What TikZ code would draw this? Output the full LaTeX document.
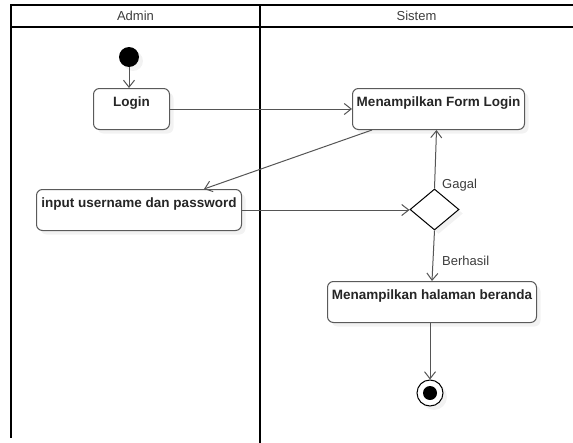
\documentclass[tikz,border=0pt]{standalone}
\usepackage{fontspec}
\setmainfont{Liberation Sans}
\usepackage{xcolor}
\usepackage{tikz}
\usetikzlibrary{arrows.meta,shapes.geometric,shadows}
\definecolor{figline}{RGB}{0,0,0}
\definecolor{figbox}{RGB}{90,90,90}
\definecolor{figflow}{RGB}{85,85,85}
\definecolor{figtext}{RGB}{60,60,60}
\tikzset{
  fr/.style   ={draw=figline, line width=1.5pt},
  act/.style  ={draw=figbox, line width=1pt, fill=white, rounded corners=6pt,
                anchor=north west, inner xsep=3pt, inner ysep=0pt,
                text height=18pt, text depth=23pt,
                font=\fontsize{13.5}{15}\selectfont\bfseries, text=black!85,
                drop shadow={opacity=0.1, shadow xshift=4pt, shadow yshift=-4pt}},
  lab/.style  ={font=\fontsize{13}{15}\selectfont, text=figtext, inner sep=1pt},
  flw/.style  ={draw=figflow, line width=1pt, -{Straight Barb[length=7pt,width=11pt]}},
}

\begin{document}
\begin{tikzpicture}[x=1pt,y=-1pt]
  \useasboundingbox (0,0) rectangle (573,442);
  % swimlanes
  \draw[fr] (574,5) -- (11,5) -- (11,438);
  \draw[fr] (11,27) -- (574,27);
  \draw[fr] (260,5) -- (260,443);
  \node[lab] (hadmin) at (135.5,16) {Admin};
  \node[lab] (hsistem) at (416.5,16) {Sistem};
  % nodes
  \node[circle, fill=black, minimum size=20pt, inner sep=0pt,
        drop shadow={opacity=0.1, shadow xshift=4pt, shadow yshift=-4pt}] (start) at (129,57) {};
  \node[act, minimum width=76pt] (login) at (93,88) {Login};
  \node[act, minimum width=172pt] (form) at (352,88) {Menampilkan Form Login};
  \node[act, minimum width=205pt] (input) at (36,189) {input username dan password};
  \node[diamond, draw=black, line width=1pt, fill=white, minimum width=49pt,
        minimum height=41pt, inner sep=0pt,
        drop shadow={opacity=0.1, shadow xshift=4pt, shadow yshift=-4pt}] (cek) at (434.5,209.5) {};
  \node[act, minimum width=209pt] (beranda) at (327,281) {Menampilkan halaman beranda};
  \node[circle, draw=black, line width=1pt, fill=white, minimum size=26pt, inner sep=0pt,
        drop shadow={opacity=0.1, shadow xshift=4pt, shadow yshift=-4pt},
        path picture={\fill[black] (path picture bounding box.center) circle (7pt);}] (end) at (430,393) {};
  % flows
  \draw[flw] (start) -- (start |- login.north);
  \draw[flw] (login.east) -- (login.east -| form.west);
  \draw[flw] ([xshift=20pt]form.south west) -- ([xshift=-38pt]input.north east);
  \draw[flw] (input.east) -- (input.east -| cek.west);
  \draw[flw] (cek.north) -- ([xshift=-2pt]form.south);
  \draw[flw] (cek.south) -- (beranda.north);
  \draw[flw] (beranda.south -| end) -- (end.north);
  \node[lab, anchor=west] (gagal) at (441,185) {Gagal};
  \node[lab, anchor=west] (berhasil) at (441,261) {Berhasil};
\end{tikzpicture}
\end{document}
